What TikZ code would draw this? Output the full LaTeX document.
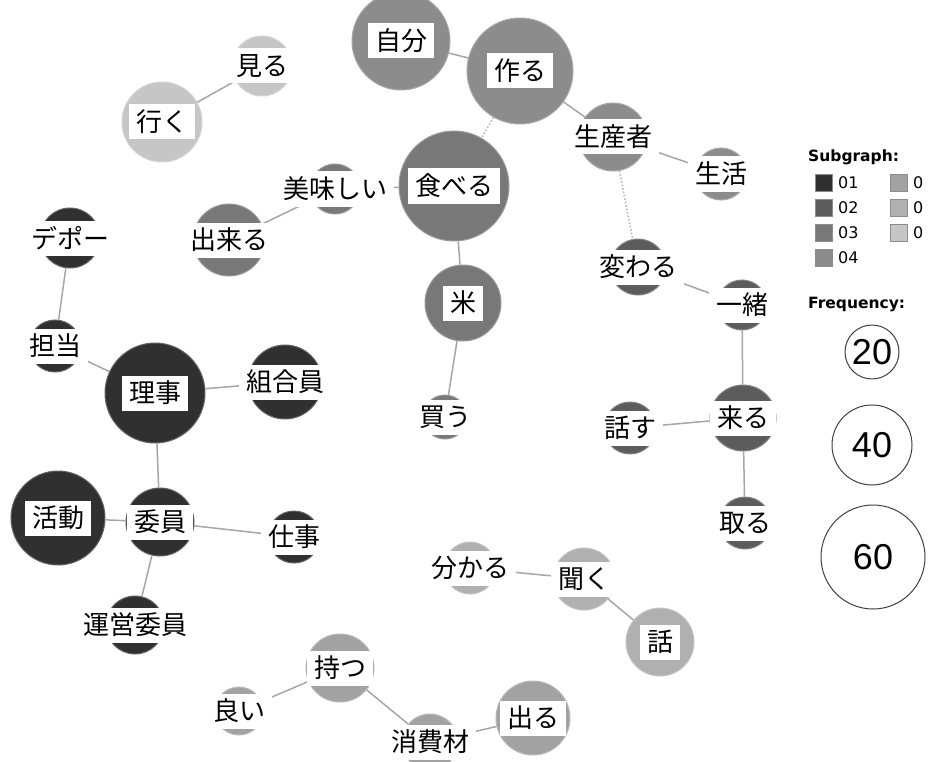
\documentclass[tikz,border=0pt]{standalone}
\usepackage{fontspec}
\setmainfont{DejaVu Sans}
\newfontfamily\jpfont{Noto Sans CJK JP}
\newfontfamily\legfont{DejaVu Sans}
\newfontfamily\numfont{Liberation Sans}
\definecolor{sgA}{HTML}{303030}
\definecolor{sgB}{HTML}{5C5C5C}
\definecolor{sgC}{HTML}{787878}
\definecolor{sgD}{HTML}{8C8C8C}
\definecolor{sgE}{HTML}{A2A2A2}
\definecolor{sgF}{HTML}{B0B0B0}
\definecolor{sgG}{HTML}{C6C6C6}
\tikzset{
  bubble/.style={circle, fill=#1, draw=#1!75!white, line width=1pt, inner sep=0pt},
  lbl/.style={fill=white, inner xsep=7pt, inner ysep=0pt, minimum height=35pt,
    font=\jpfont\fontsize{26}{26}\selectfont},
  edge/.style={draw=black!35, line width=1.5pt},
  dotedge/.style={draw=black!30, line width=1.5pt, dotted},
  legsq/.style={fill=#1, draw=black!45, line width=0.8pt, minimum size=17pt, inner sep=0pt},
  legtxt/.style={anchor=west, inner sep=0pt, font=\legfont\fontsize{16}{16}\selectfont},
  leghead/.style={anchor=west, inner sep=0pt, font=\legfont\bfseries\fontsize{15.5}{15.5}\selectfont},
  freqc/.style={circle, draw=black!75, line width=1pt, fill=white, inner sep=0pt,
    font=\numfont\fontsize{36}{36}\selectfont}
}
\begin{document}
\begin{tikzpicture}[x=1pt,y=-1pt]
\useasboundingbox (0,0) rectangle (928,762);
\fill[white] (0,0) rectangle (928,762);
\clip (0,0) rectangle (928,762);
% circles
\node[bubble=sgD, minimum size=98pt]  (jibun)     at (401,41)  {};
\node[bubble=sgD, minimum size=106pt] (tsukuru)   at (520,71)  {};
\node[bubble=sgD, minimum size=68pt]  (seisansha) at (613,137) {};
\node[bubble=sgD, minimum size=52pt]  (seikatsu)  at (721,174) {};
\node[bubble=sgC, minimum size=110pt] (taberu)    at (454,186) {};
\node[bubble=sgC, minimum size=50pt]  (oishii)    at (335,189) {};
\node[bubble=sgC, minimum size=72pt]  (dekiru)    at (229,240) {};
\node[bubble=sgC, minimum size=76pt]  (kome)      at (463,303) {};
\node[bubble=sgC, minimum size=44pt]  (kau)       at (445,417) {};
\node[bubble=sgG, minimum size=60pt]  (miru)      at (262,66)  {};
\node[bubble=sgG, minimum size=80pt]  (iku)       at (162,122) {};
\node[bubble=sgA, minimum size=60pt]  (depo)      at (70,238)  {};
\node[bubble=sgA, minimum size=52pt]  (tanto)     at (55,346)  {};
\node[bubble=sgA, minimum size=100pt] (riji)      at (155,393) {};
\node[bubble=sgA, minimum size=74pt]  (kumiaiin)  at (285,382) {};
\node[bubble=sgA, minimum size=94pt]  (katsudo)   at (58,518)  {};
\node[bubble=sgA, minimum size=68pt]  (iin)       at (160,522) {};
\node[bubble=sgA, minimum size=52pt]  (shigoto)   at (294,537) {};
\node[bubble=sgA, minimum size=58pt]  (uneiiin)   at (135,625) {};
\node[bubble=sgB, minimum size=56pt]  (kawaru)    at (638,267) {};
\node[bubble=sgB, minimum size=50pt]  (issho)     at (742,305) {};
\node[bubble=sgB, minimum size=66pt]  (kuru)      at (743,418) {};
\node[bubble=sgB, minimum size=52pt]  (hanasu)    at (630,428) {};
\node[bubble=sgB, minimum size=52pt]  (toru)      at (745,523) {};
\node[bubble=sgF, minimum size=52pt]  (wakaru)    at (470,568) {};
\node[bubble=sgF, minimum size=62pt]  (kiku)      at (584,579) {};
\node[bubble=sgF, minimum size=68pt]  (hanashi)   at (660,642) {};
\node[bubble=sgE, minimum size=74pt]  (deru)      at (533,718) {};
\node[bubble=sgE, minimum size=56pt]  (shohizai)  at (430,742) {};
\node[bubble=sgE, minimum size=68pt]  (motsu)     at (340,668) {};
\node[bubble=sgE, minimum size=48pt]  (yoi)       at (239,711) {};
% edges
\draw[edge] (jibun) -- (tsukuru);
\draw[edge] (tsukuru) -- (seisansha);
\draw[dotedge] (tsukuru) -- (taberu);
\draw[edge] (seisansha) -- (seikatsu);
\draw[dotedge] (seisansha) -- (kawaru);
\draw[edge] (taberu) -- (oishii);
\draw[edge] (oishii) -- (dekiru);
\draw[edge] (taberu) -- (kome);
\draw[edge] (kome) -- (kau);
\draw[edge] (miru) -- (iku);
\draw[edge] (depo) -- (tanto);
\draw[edge] (tanto) -- (riji);
\draw[edge] (riji) -- (kumiaiin);
\draw[edge] (riji) -- (iin);
\draw[edge] (katsudo) -- (iin);
\draw[edge] (iin) -- (shigoto);
\draw[edge] (iin) -- (uneiiin);
\draw[edge] (kawaru) -- (issho);
\draw[edge] (issho) -- (kuru);
\draw[edge] (kuru) -- (hanasu);
\draw[edge] (kuru) -- (toru);
\draw[edge] (wakaru) -- (kiku);
\draw[edge] (kiku) -- (hanashi);
\draw[edge] (motsu) -- (yoi);
\draw[edge] (motsu) -- (shohizai);
\draw[edge] (shohizai) -- (deru);
% labels
\node[lbl] (jibun-l)     at (jibun)     {自分};
\node[lbl] (tsukuru-l)   at (tsukuru)   {作る};
\node[lbl] (seisansha-l) at (seisansha) {生産者};
\node[lbl] (seikatsu-l)  at (seikatsu)  {生活};
\node[lbl] (taberu-l)    at (taberu)    {食べる};
\node[lbl] (oishii-l)    at (oishii)    {美味しい};
\node[lbl] (dekiru-l)    at (dekiru)    {出来る};
\node[lbl] (kome-l)      at (kome)      {米};
\node[lbl] (kau-l)       at (kau)       {買う};
\node[lbl] (miru-l)      at (miru)      {見る};
\node[lbl] (iku-l)       at (iku)       {行く};
\node[lbl] (depo-l)      at (depo)      {デポー};
\node[lbl] (tanto-l)     at (tanto)     {担当};
\node[lbl] (riji-l)      at (riji)      {理事};
\node[lbl] (kumiaiin-l)  at (kumiaiin)  {組合員};
\node[lbl] (katsudo-l)   at (katsudo)   {活動};
\node[lbl] (iin-l)       at (iin)       {委員};
\node[lbl] (shigoto-l)   at (shigoto)   {仕事};
\node[lbl] (uneiiin-l)   at (uneiiin)   {運営委員};
\node[lbl] (kawaru-l)    at (kawaru)    {変わる};
\node[lbl] (issho-l)     at (issho)     {一緒};
\node[lbl] (kuru-l)      at (kuru)      {来る};
\node[lbl] (hanasu-l)    at (hanasu)    {話す};
\node[lbl] (toru-l)      at (toru)      {取る};
\node[lbl] (wakaru-l)    at (wakaru)    {分かる};
\node[lbl] (kiku-l)      at (kiku)      {聞く};
\node[lbl] (hanashi-l)   at (hanashi)   {話};
\node[lbl] (deru-l)      at (deru)      {出る};
\node[lbl] (shohizai-l)  at (shohizai)  {消費材};
\node[lbl] (motsu-l)     at (motsu)     {持つ};
\node[lbl] (yoi-l)       at (yoi)       {良い};
% legend
\node[leghead] (subhead) at (808,157) {Subgraph:};
\node[legsq=sgA] (sq1) at (824,183) {};
\node[legsq=sgB] (sq2) at (824,208) {};
\node[legsq=sgC] (sq3) at (824,233) {};
\node[legsq=sgD] (sq4) at (824,258) {};
\node[legtxt] (t1) at (838,183) {01};
\node[legtxt] (t2) at (838,208) {02};
\node[legtxt] (t3) at (838,233) {03};
\node[legtxt] (t4) at (838,258) {04};
\node[legsq=sgE] (sq5) at (899,183) {};
\node[legsq=sgF] (sq6) at (899,208) {};
\node[legsq=sgG] (sq7) at (899,233) {};
\node[legtxt] (t5) at (913,183) {0};
\node[legtxt] (t6) at (913,208) {0};
\node[legtxt] (t7) at (913,233) {0};
\node[leghead] (freqhead) at (808,305) {Frequency:};
\node[freqc, minimum size=54pt]  (f20) at (872,352) {20};
\node[freqc, minimum size=80pt]  (f40) at (872,445) {40};
\node[freqc, minimum size=104pt] (f60) at (873,557) {60};
\end{tikzpicture}
\end{document}
